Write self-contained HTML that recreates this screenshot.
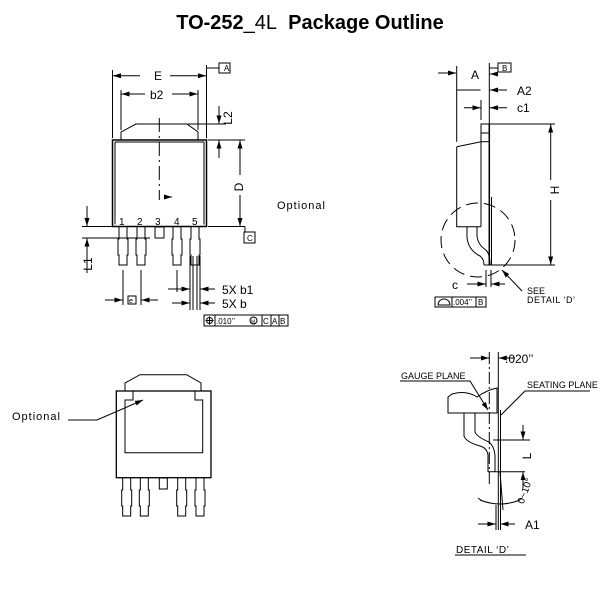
<!DOCTYPE html>
<html><head><meta charset="utf-8"><style>
html,body{margin:0;padding:0;background:#fff}
svg{display:block}
text{font-family:"Liberation Sans",sans-serif;fill:#000}
</style></head><body>
<svg width="612" height="594" viewBox="0 0 612 594" xmlns="http://www.w3.org/2000/svg">
<defs>
<marker id="ar" markerWidth="8" markerHeight="6" refX="8" refY="3" orient="auto" markerUnits="userSpaceOnUse"><path d="M0,0.5 L8,3 L0,5.5 Z" fill="#000"/></marker>
<path id="lead" d="M-4,0 V12 H-5 V28 H-4 V38 H4 V28 H5 V12 H4 V0" fill="none" stroke="#000" stroke-width="1"/>
</defs>
<text x="310" y="29" text-anchor="middle" font-size="20" font-weight="bold">TO-252<tspan font-weight="normal">_4L</tspan>&#160;&#160;Package Outline</text>

<g fill="none" stroke="#000" stroke-width="1">
<!-- TOP LEFT VIEW -->
<path d="M121,140 V132 L136,124 H187 L198,132 V140"/>
<rect x="112.5" y="140" width="94" height="86.5" stroke-width="1.5"/>
<path d="M115,142 V224.5 M204,142 V224.5 M115,142 H204"/>
<use href="#lead" x="123" y="227"/><use href="#lead" x="141" y="227"/>
<use href="#lead" x="177" y="227"/><use href="#lead" x="195" y="227"/>
<rect x="155" y="227" width="9" height="11"/>
<line x1="159.3" y1="118" x2="159.3" y2="200" stroke-dasharray="14,4,2,4"/>
<path d="M112.5,70 V138 M206.5,65 V138 M206.5,68 H219"/>
<line x1="140" y1="75.7" x2="113" y2="75.7" marker-end="url(#ar)"/>
<line x1="170" y1="75.7" x2="206" y2="75.7" marker-end="url(#ar)"/>
<rect x="219" y="63" width="11" height="10"/>
<path d="M121,90 V130 M198,90 V130"/>
<line x1="145" y1="94" x2="121.5" y2="94" marker-end="url(#ar)"/>
<line x1="172" y1="94" x2="197.5" y2="94" marker-end="url(#ar)"/>
<path d="M188,124 H226 M208,140 H245"/>
<line x1="219" y1="106" x2="219" y2="123.5" marker-end="url(#ar)"/>
<line x1="219" y1="158" x2="219" y2="140.5" marker-end="url(#ar)"/>
<path d="M208,226.5 H245"/>
<line x1="240" y1="175" x2="240" y2="140.5" marker-end="url(#ar)"/>
<line x1="240" y1="195" x2="240" y2="226" marker-end="url(#ar)"/>
<line x1="245" y1="226.5" x2="245" y2="232"/>
<rect x="244" y="232" width="11" height="11"/>
<path d="M82,226.5 H112 M82,238 H150"/>
<line x1="87" y1="206" x2="87" y2="226" marker-end="url(#ar)"/>
<line x1="87" y1="273" x2="87" y2="238.5" marker-end="url(#ar)"/>
<path d="M123,270 V305 M141,270 V305 M177,270 V292 M190,256 V310 M200,256 V310 M193,256 V310 M197,256 V310"/>
<line x1="105" y1="300" x2="122.5" y2="300" marker-end="url(#ar)"/>
<line x1="158" y1="300" x2="141.5" y2="300" marker-end="url(#ar)"/>
<rect x="128" y="296" width="8" height="8"/>
<line x1="168" y1="289" x2="189.5" y2="289" marker-end="url(#ar)"/>
<line x1="215" y1="289" x2="200.5" y2="289" marker-end="url(#ar)"/>
<line x1="172" y1="303" x2="189.5" y2="303" marker-end="url(#ar)"/>
<line x1="215" y1="303" x2="200.5" y2="303" marker-end="url(#ar)"/>
<rect x="204" y="315" width="84" height="11"/>
<path d="M215,315 V326 M262,315 V326 M271,315 V326 M279,315 V326"/>
<circle cx="209.5" cy="320.5" r="3"/><path d="M205.5,320.5 H213.5 M209.5,316.5 V324.5"/>
<circle cx="253.5" cy="320.5" r="3.5"/>
<path d="M164,197 L172,197" marker-end="url(#ar)"/>

<!-- TOP RIGHT SIDE VIEW -->
<path d="M456.7,66 V141.7 M489.3,63 V124"/>
<line x1="438" y1="73" x2="456" y2="73" marker-end="url(#ar)"/>
<line x1="498" y1="74" x2="490" y2="74" marker-end="url(#ar)"/>
<path d="M489.3,68 H498"/>
<rect x="498" y="63" width="13" height="9"/>
<line x1="456.7" y1="90" x2="480.5" y2="90"/>
<line x1="507" y1="90" x2="490" y2="90" marker-end="url(#ar)"/>
<path d="M481,100 V120"/>
<line x1="464" y1="107.7" x2="480.5" y2="107.7" marker-end="url(#ar)"/>
<line x1="507" y1="107.7" x2="490" y2="107.7" marker-end="url(#ar)"/>
<path d="M456.7,146.7 L481,141.7 M456.7,146.7 V226.7 H481"/>
<rect x="481" y="124" width="8.3" height="17.7"/>
<path d="M481,133 H489 M481,141.7 V226.7"/>
<path d="M489.3,124 V265" stroke-width="1.5"/><path d="M491.5,197 V265"/>
<path d="M467,227 V237 Q468,250 480,256 Q484,259 484,265 M477,227 V236 Q478,245 486,250 Q490,254 490,265"/>
<path d="M484,265 H490"/>
<path d="M489.3,124 H555 M490,265 H555"/>
<line x1="550.7" y1="180" x2="550.7" y2="124.5" marker-end="url(#ar)"/>
<line x1="550.7" y1="200" x2="550.7" y2="264.5" marker-end="url(#ar)"/>
<circle cx="478" cy="240" r="37" stroke-dasharray="12,6"/>
<path d="M486,270 V287 M491,270 V287"/>
<line x1="467" y1="284" x2="485.5" y2="284" marker-end="url(#ar)"/>
<line x1="505" y1="284" x2="491.5" y2="284" marker-end="url(#ar)"/>
<path d="M522,291 L502,270" marker-end="url(#ar)"/>
<rect x="435" y="297" width="51" height="10"/>
<path d="M452,297 V307 M476,297 V307 M438,305 A6,6 0 0 1 450,305 Z"/>

<!-- BOTTOM LEFT -->
<path d="M125,391 V383 L140,374.7 H186.7 L201,383 V391"/>
<rect x="116.3" y="391" width="94.7" height="86.7" stroke-width="1.3"/>
<path d="M116.3,391 H133 V400 H125 V452.7 H202.7 V400 H195 V391"/>
<use href="#lead" x="126.7" y="478"/><use href="#lead" x="144.3" y="478"/>
<use href="#lead" x="181.7" y="478"/><use href="#lead" x="200" y="478"/>
<rect x="159.3" y="478" width="8" height="11"/>
<path d="M68,420 H97 L143,400" marker-end="url(#ar)"/>

<!-- DETAIL D -->
<path d="M489.3,352 V485" stroke-dasharray="12,3,2,3"/>
<path d="M498.3,352 V530 M500.5,410 V530"/>
<line x1="470" y1="358" x2="489" y2="358" marker-end="url(#ar)"/>
<line x1="515" y1="358" x2="498.8" y2="358" marker-end="url(#ar)"/>
<path d="M400,381 H470 L488,410" marker-end="url(#ar)"/>
<path d="M590,391 H525 L501,415"/>
<path d="M448,397 L452,394 Q466,390 477,397 Q487,390 497,388 V413 H448 Z"/>
<path d="M464,413 V436 Q466,442 480,446 Q487,448 488,455 V472 M475,413 V432 Q477,437 489,442 Q494,446 495,455 V472"/>
<path d="M488,471.7 H525 M493,440 H530"/>
<line x1="523" y1="425" x2="523" y2="439.5" marker-end="url(#ar)"/>
<line x1="523" y1="488" x2="523" y2="472.2" marker-end="url(#ar)"/>
<path d="M500,472 L503,510"/>
<path d="M480,500 Q500,508 520,500"/>
<path d="M482,501 L478,498 M518,501 L522,498"/>
<path d="M496,505 V530"/>
<line x1="478" y1="524" x2="495.5" y2="524" marker-end="url(#ar)"/>
<line x1="515" y1="524" x2="500.5" y2="524" marker-end="url(#ar)"/>
<path d="M455,555 H526"/>
</g>

<g font-size="12">
<text x="154" y="80">E</text>
<text x="150" y="99">b2</text>
<text x="232" y="118" transform="rotate(-90 232 118)" text-anchor="middle">L2</text>
<text x="243" y="187" transform="rotate(-90 243 187)" text-anchor="middle">D</text>
<text x="92" y="264" transform="rotate(-90 92 264)" text-anchor="middle">L1</text>
<text x="222" y="294">5X  b1</text>
<text x="222" y="308">5X  b</text>
<text x="471" y="79">A</text>
<text x="517" y="95">A2</text>
<text x="517" y="112">c1</text>
<text x="559" y="190" transform="rotate(-90 559 190)" text-anchor="middle">H</text>
<text x="452" y="289">c</text>
<text x="525" y="529">A1</text>
<text x="531" y="456" transform="rotate(-90 531 456)" text-anchor="middle">L</text>
<text x="528" y="492" transform="rotate(-70 528 492)" text-anchor="middle" font-size="10">0~10°</text>
<text x="505" y="363">.020’’</text>
</g>
<g font-size="10">
<text x="119" y="225">1</text><text x="137" y="225">2</text><text x="155" y="225">3</text><text x="174" y="225">4</text><text x="192" y="225">5</text>
<text x="224" y="71" font-size="8">A</text>
<text x="502" y="71" font-size="8">B</text>
<text x="247" y="241" font-size="8">C</text>
<text x="129" y="303" font-size="7">e</text>
<text x="216" y="324" font-size="8">.010’’</text>
<text x="251" y="323.5" font-size="5">M</text>
<text x="263" y="324" font-size="8">C</text><text x="272" y="324" font-size="8">A</text><text x="280" y="324" font-size="8">B</text>
<text x="453" y="305" font-size="8">.004’’</text><text x="478" y="305" font-size="8">B</text>
<text x="277" y="209" font-size="11" letter-spacing="1">Optional</text>
<text x="12" y="420" font-size="11" letter-spacing="1">Optional</text>
<text x="527" y="294" font-size="9">SEE</text>
<text x="527" y="303" font-size="9" letter-spacing="0.5">DETAIL ‘D’</text>
<text x="401" y="379" font-size="9">GAUGE PLANE</text>
<text x="527" y="388" font-size="9">SEATING PLANE</text>
<text x="456" y="553" font-size="10" letter-spacing="0.5">DETAIL ‘D’</text>
</g>
</svg>
</body></html>
